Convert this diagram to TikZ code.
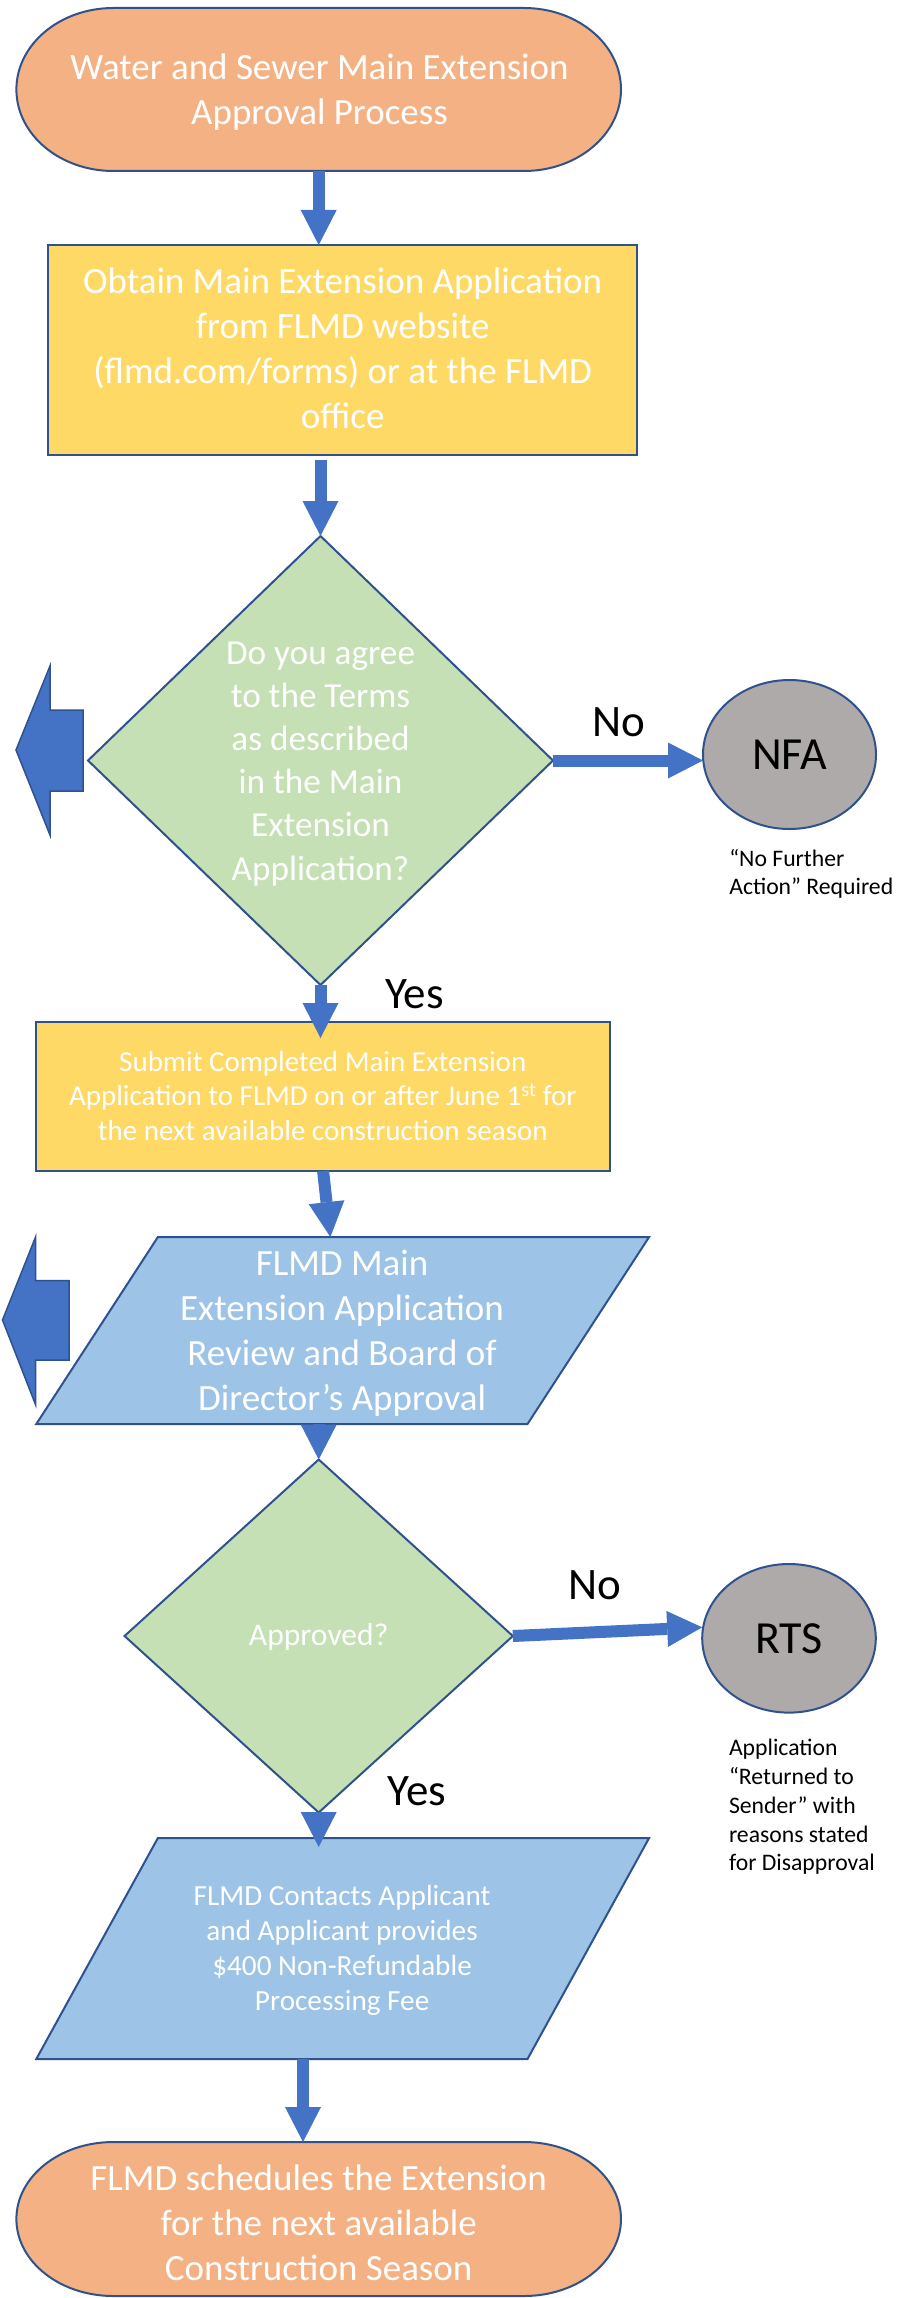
\documentclass[tikz,border=0pt]{standalone}
\usepackage{fontspec}
\setmainfont{Carlito}
\usetikzlibrary{shapes.geometric,arrows.meta}
\definecolor{termfill}{HTML}{F4B183}
\definecolor{boxfill}{HTML}{FFD966}
\definecolor{decfill}{HTML}{C5E0B4}
\definecolor{parafill}{HTML}{9DC3E6}
\definecolor{circfill}{HTML}{AEAAAA}
\definecolor{arrowblue}{HTML}{4472C4}
\definecolor{edgeblue}{HTML}{2F528F}
\begin{document}
\begin{tikzpicture}[x=1pt,y=-1pt,
  shapeline/.style={draw=edgeblue, line width=2pt, line join=miter},
  anch/.style={draw=none, fill=none, inner sep=0pt, outer sep=0pt},
  boxnode/.style={shapeline, fill=boxfill, inner sep=0pt, outer sep=0pt},
  decnode/.style={shapeline, diamond, fill=decfill, inner sep=0pt, outer sep=0pt},
  endnode/.style={shapeline, ellipse, fill=circfill, inner sep=0pt, outer sep=0pt, text=black, font=\fontsize{46}{55}\selectfont},
  wtxt/.style={text=white, align=center, inner sep=0pt, outer sep=0pt},
  captxt/.style={text=black, align=left, anchor=west, inner sep=0pt, outer sep=0pt, font=\fontsize{23.7}{28.75}\selectfont},
  lbltxt/.style={text=black, anchor=base, inner sep=0pt, outer sep=0pt, font=\fontsize{45}{54}\selectfont},
  flow/.style={draw=arrowblue, line width=12pt, -{Triangle[width=36pt,length=35pt,line width=0pt]}},
  blockarrow/.style={fill=arrowblue, draw=edgeblue, line width=1.5pt, line join=miter},
]
\useasboundingbox (0,0) rectangle (917,2298);

% ---------- top terminator ----------
\filldraw[shapeline, fill=termfill] (113.4,8) -- (524,8)
  arc[start angle=90,end angle=-90,x radius=97pt,y radius=81.5pt] -- (113.4,171)
  arc[start angle=270,end angle=90,x radius=97pt,y radius=81.5pt] -- cycle;
\node[anch, minimum width=604.6pt, minimum height=163pt] (t1) at (318.7,89.5) {};
\node[wtxt, font=\fontsize{37}{45}\selectfont] (t1text) at (319.5,93.5)
  {\strut Water and Sewer Main Extension\\\strut Approval Process};

% ---------- box 1 ----------
\node[boxnode, minimum width=589.4pt, minimum height=210pt] (b1) at (342.7,350) {};
\node[wtxt, font=\fontsize{37}{45}\selectfont] (b1text) at (342.7,351.5)
  {\strut Obtain Main Extension Application\\\strut from FLMD website\\\strut (flmd.com/forms) or at the FLMD\\\strut office};

% ---------- decision 1 ----------
\node[decnode, minimum width=465pt, minimum height=449pt] (d1) at (320.5,760.5) {};
\node[wtxt, font=\fontsize{35.2}{43.2}\selectfont] (d1text) at (320.5,763.4)
  {\strut Do you agree\\\strut to the Terms\\\strut as described\\\strut in the Main\\\strut Extension\\\strut Application?};

% left block arrow 1
\filldraw[blockarrow] (16,750) -- (50,666) -- (50,710) -- (83,710) -- (83,791) -- (50,791) -- (50,835) -- cycle;

% NFA
\node[endnode, minimum width=173pt, minimum height=149pt] (nfa) at (789.5,754.5) {NFA};
\node[captxt] (nfacap) at (729.3,874.7) {\strut “No Further\\\strut Action” Required};

% ---------- box 2 ----------
\node[boxnode, minimum width=573.7pt, minimum height=149pt] (b2) at (323.1,1096.5) {};
\node[wtxt, font=\fontsize{29}{34.5}\selectfont] (b2text) at (322.8,1098.6)
  {\strut Submit Completed Main Extension\\\strut Application to FLMD on or after June 1\textsuperscript{st} for\\\strut the next available construction season};

% ---------- parallelogram 1 ----------
\filldraw[shapeline, fill=parafill] (157.9,1237) -- (649.1,1237) -- (527.5,1424) -- (36.3,1424) -- cycle;
\node[anch, minimum width=491.2pt, minimum height=187pt] (p1) at (342.7,1330.5) {};
\node[wtxt, font=\fontsize{37}{45}\selectfont] (p1text) at (342.1,1333.5)
  {\strut FLMD Main\\\strut Extension Application\\\strut Review and Board of\\\strut Director’s Approval};

% left block arrow 2
\filldraw[blockarrow] (2.5,1320) -- (35.7,1236.7) -- (35.7,1280.7) -- (69,1280.7) -- (69,1360) -- (35.7,1360) -- (35.7,1405) -- cycle;

% ---------- decision 2 ----------
\node[decnode, minimum width=388.3pt, minimum height=353pt] (d2) at (318.7,1636) {};
\node[wtxt, anchor=base, font=\fontsize{31.6}{38}\selectfont] (d2text) at (318.7,1645) {Approved?};

% RTS
\node[endnode, minimum width=173.6pt, minimum height=148.6pt] (rts) at (789,1638.3) {RTS};
\node[captxt] (rtscap) at (729,1807.5)
  {\strut Application\\\strut “Returned to\\\strut Sender” with\\\strut reasons stated\\\strut for Disapproval};

% ---------- parallelogram 2 ----------
\filldraw[shapeline, fill=parafill] (157.9,1838) -- (649.1,1838) -- (527.5,2059) -- (36.3,2059) -- cycle;
\node[anch, minimum width=491.2pt, minimum height=221pt] (p2) at (342.7,1948.5) {};
\node[wtxt, font=\fontsize{29.2}{35.3}\selectfont] (p2text) at (342.1,1950.9)
  {\strut FLMD Contacts Applicant\\\strut and Applicant provides\\\strut \$400 Non-Refundable\\\strut Processing Fee};

% ---------- bottom terminator ----------
\filldraw[shapeline, fill=termfill] (113.4,2142) -- (524,2142)
  arc[start angle=90,end angle=-90,x radius=97pt,y radius=77pt] -- (113.4,2296)
  arc[start angle=270,end angle=90,x radius=97pt,y radius=77pt] -- cycle;
\node[anch, minimum width=604.6pt, minimum height=154pt] (t2) at (318.7,2219) {};
\node[wtxt, font=\fontsize{37}{45}\selectfont] (t2text) at (318.7,2226)
  {\strut FLMD schedules the Extension\\\strut for the next available\\\strut Construction Season};

% ---------- labels ----------
\node[lbltxt] (no1) at (619,736) {No};
\node[lbltxt] (yes1) at (414.6,1008.6) {Yes};
\node[lbltxt] (no2) at (594.7,1599) {No};
\node[lbltxt] (yes2) at (416.7,1805) {Yes};

% ---------- connectors ----------
\draw[flow] (t1.south) -- (t1.south |- b1.north);
\draw[flow] ([yshift=-5pt]b1.south -| d1.north) -- (d1.north);
\draw[flow] (d1.east) -- (d1.east -| nfa.west);
\draw[flow, shorten >=-16pt] (d1.south) -- (d1.south |- b2.north);
\draw[flow] (b2.south) -- ([xshift=-12.3pt]p1.north);
\draw[flow] (d2.north |- p1.south) -- (d2.north);
\draw[flow] (d2.east) -- ([yshift=11pt]rts.west);
\draw[flow, shorten >=-9pt] (d2.south) -- (d2.south |- p2.north);
\draw[flow] ([xshift=-39.7pt]p2.south) -- ([xshift=-39.7pt]p2.south |- t2.north);
\end{tikzpicture}
\end{document}
